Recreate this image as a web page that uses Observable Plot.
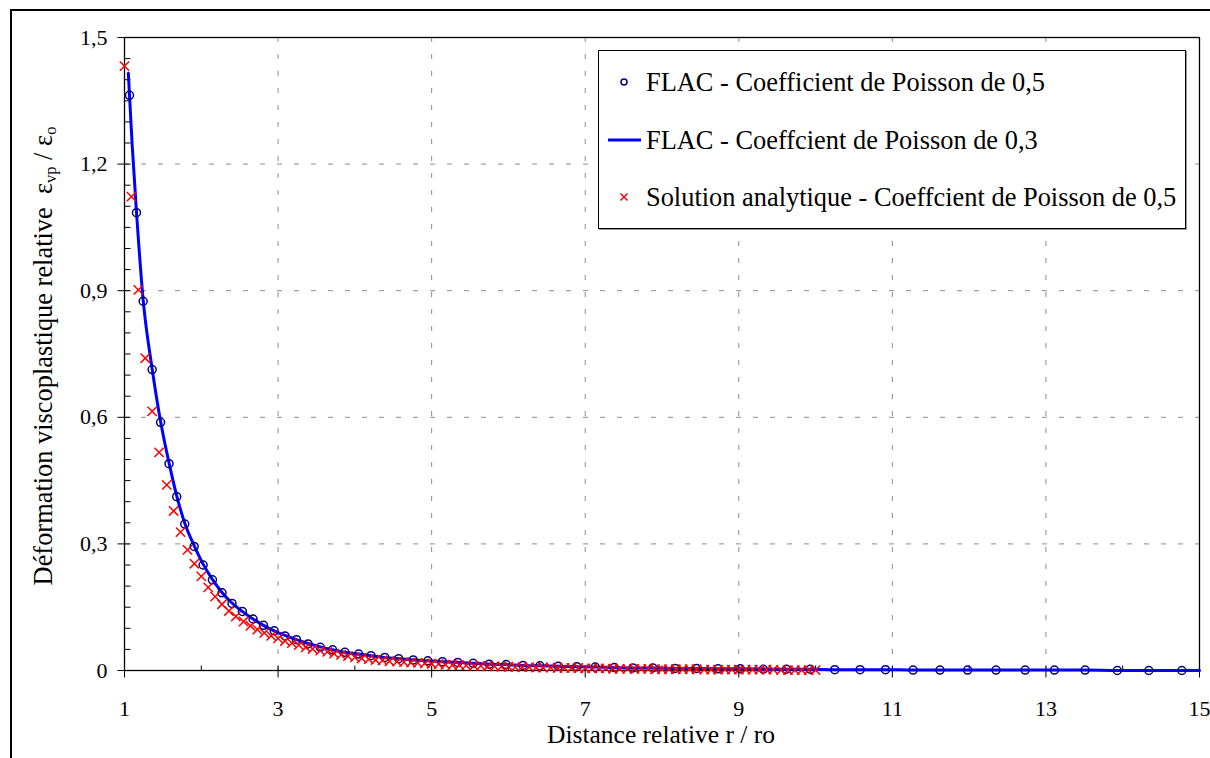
<!DOCTYPE html>
<html>
<head>
<meta charset="utf-8">
<script src="https://cdn.jsdelivr.net/npm/d3@7"></script>
<script src="https://cdn.jsdelivr.net/npm/@observablehq/plot@0.6"></script>
<style>
  html, body { margin: 0; padding: 0; background: #fff; }
  #wrap { position: relative; width: 1210px; height: 758px; overflow: hidden; background: #fff;
          font-family: "Liberation Serif", "Times New Roman", serif; color: #000; }
  #outer { position: absolute; left: 10px; top: 9px; width: 1400px; height: 1000px;
           border-left: 2px solid #000; border-top: 2px solid #000; }
  #chart { position: absolute; left: 0; top: 0; }
  #legend { position: absolute; left: 598px; top: 50px; width: 586px; height: 177px;
            border: 1px solid #000; background: #fff; box-shadow: 1px 1px 0 #9a9a9a; }
  .row { position: absolute; left: 0; height: 30px; width: 100%; font-size: 26.4px; line-height: 30px; white-space: nowrap; }
  .row svg { position: absolute; left: 0; top: 0; }
  .row span { position: absolute; left: 47px; top: 0; }
  #ytitle { position: absolute; left: 45px; top: 356px; transform: translate(-50%, -50%) rotate(-90deg);
            font-size: 26.4px; white-space: nowrap; line-height: 1; }
  #ytitle sub { font-size: 16.5px; vertical-align: -4px; }
  #xtitle { position: absolute; left: 661px; top: 722px; transform: translateX(-50%);
            font-size: 25.5px; white-space: nowrap; line-height: 1; }
</style>
</head>
<body>
<div id="wrap">
  <div id="outer"></div>
  <div id="chart"></div>
  <div id="legend"></div>
  <div id="ytitle">Déformation viscoplastique relative&nbsp;&nbsp;ε<sub>vp</sub> / ε<sub>o</sub></div>
  <div id="xtitle">Distance relative r / ro</div>
</div>
<script>
// ---- Series names ----
const seriesNames = [
  "FLAC - Coefficient de Poisson de 0,5",
  "FLAC - Coeffcient de Poisson de 0,3",
  "Solution analytique - Coeffcient de Poisson de 0,5"
];

// ---- FLAC, Poisson 0.5 (circles) ----
const flac05X = [1.065, 1.156, 1.243, 1.36, 1.47, 1.58, 1.68, 1.785, 1.907, 2.024, 2.145, 2.27, 2.40, 2.535, 2.674, 2.81, 2.95, 3.09, 3.24, 3.39, 3.55, 3.71, 3.87, 4.05, 4.21, 4.39, 4.57, 4.76, 4.95, 5.14, 5.34, 5.54, 5.75, 5.97, 6.19, 6.41, 6.65, 6.89, 7.13, 7.38, 7.62, 7.88, 8.17, 8.45, 8.73, 9.02, 9.32, 9.62, 9.93, 10.25, 10.58, 10.91, 11.27, 11.62, 11.98, 12.35, 12.73, 13.11, 13.51, 13.93, 14.34, 14.77];
const flac05Y = [1.363, 1.085, 0.875, 0.713, 0.588, 0.490, 0.412, 0.347, 0.294, 0.250, 0.215, 0.184, 0.159, 0.140, 0.122, 0.107, 0.094, 0.082, 0.073, 0.063, 0.055, 0.049, 0.043, 0.039, 0.035, 0.031, 0.028, 0.025, 0.023, 0.021, 0.019, 0.017, 0.015, 0.014, 0.012, 0.011, 0.010, 0.009, 0.008, 0.007, 0.006, 0.006, 0.005, 0.005, 0.004, 0.004, 0.003, 0.003, 0.003, 0.002, 0.002, 0.002, 0.001, 0.001, 0.001, 0.001, 0.001, 0.001, 0.001, 0.000, 0.000, 0.000];

// ---- FLAC, Poisson 0.3 (line) ----
const flac03X = [1.05, 1.10, 1.156, 1.243, 1.36, 1.47, 1.58, 1.68, 1.785, 1.907, 2.024, 2.145, 2.27, 2.40, 2.535, 2.674, 2.81, 2.95, 3.09, 3.24, 3.39, 3.55, 3.71, 3.87, 4.05, 4.21, 4.39, 4.57, 4.76, 4.95, 5.14, 5.34, 5.54, 5.75, 5.97, 6.19, 6.41, 6.65, 6.89, 7.13, 7.38, 7.62, 7.88, 8.17, 8.45, 8.73, 9.02, 9.32, 9.62, 9.93, 10.25, 10.58, 10.91, 11.27, 11.62, 11.98, 12.35, 12.73, 13.11, 13.51, 13.93, 14.34, 14.77, 15.0];
const flac03Y = [1.415, 1.245, 1.087, 0.878, 0.715, 0.590, 0.492, 0.414, 0.349, 0.296, 0.252, 0.216, 0.185, 0.160, 0.140, 0.122, 0.107, 0.094, 0.083, 0.073, 0.064, 0.056, 0.049, 0.043, 0.039, 0.035, 0.031, 0.028, 0.025, 0.023, 0.021, 0.019, 0.017, 0.015, 0.014, 0.012, 0.011, 0.010, 0.009, 0.008, 0.007, 0.006, 0.006, 0.005, 0.005, 0.004, 0.004, 0.003, 0.003, 0.003, 0.002, 0.002, 0.002, 0.001, 0.001, 0.001, 0.001, 0.001, 0.001, 0.001, 0.000, 0.000, 0.000, 0.000];

// ---- Analytical solution, Poisson 0.5 (crosses) ----
const anaX = [1.00, 1.09, 1.18, 1.27, 1.36, 1.45, 1.55, 1.64, 1.73, 1.82, 1.91, 2.00, 2.09, 2.18, 2.27, 2.36, 2.45, 2.55, 2.64, 2.73, 2.82, 2.91, 3.00, 3.09, 3.18, 3.27, 3.36, 3.45, 3.55, 3.64, 3.73, 3.82, 3.91, 4.00, 4.09, 4.18, 4.27, 4.36, 4.45, 4.55, 4.64, 4.73, 4.82, 4.91, 5.00, 5.09, 5.18, 5.27, 5.36, 5.45, 5.55, 5.64, 5.73, 5.82, 5.91, 6.00, 6.09, 6.18, 6.27, 6.36, 6.45, 6.55, 6.64, 6.73, 6.82, 6.91, 7.00, 7.09, 7.18, 7.27, 7.36, 7.45, 7.55, 7.64, 7.73, 7.82, 7.91, 8.00, 8.09, 8.18, 8.27, 8.36, 8.45, 8.55, 8.64, 8.73, 8.82, 8.91, 9.00, 9.09, 9.18, 9.27, 9.36, 9.45, 9.55, 9.64, 9.73, 9.82, 9.91, 10.00];
const anaY = [1.432, 1.123, 0.902, 0.740, 0.614, 0.517, 0.440, 0.378, 0.328, 0.286, 0.253, 0.223, 0.197, 0.175, 0.157, 0.141, 0.128, 0.116, 0.106, 0.097, 0.089, 0.082, 0.076, 0.070, 0.065, 0.060, 0.055, 0.051, 0.047, 0.044, 0.040, 0.037, 0.034, 0.031, 0.029, 0.027, 0.025, 0.024, 0.022, 0.021, 0.020, 0.019, 0.018, 0.017, 0.016, 0.015, 0.014, 0.013, 0.013, 0.012, 0.011, 0.011, 0.010, 0.010, 0.009, 0.009, 0.008, 0.008, 0.008, 0.007, 0.007, 0.007, 0.006, 0.006, 0.006, 0.006, 0.005, 0.005, 0.005, 0.005, 0.004, 0.004, 0.004, 0.004, 0.004, 0.004, 0.003, 0.003, 0.003, 0.003, 0.003, 0.003, 0.003, 0.002, 0.002, 0.002, 0.002, 0.002, 0.002, 0.002, 0.002, 0.002, 0.002, 0.002, 0.001, 0.001, 0.001, 0.001, 0.001, 0.001];

// ---- Axis ticks ----
const xLabelTicks = [1, 3, 5, 7, 9, 11, 13, 15];
const xMinorTicks = [2, 4, 6, 8, 10, 12, 14];
const xGridLines = [3, 5, 7, 9, 11, 13];
const yLabelTicks = [0, 0.3, 0.6, 0.9, 1.2, 1.5];
const yMinorTicks = [0.05, 0.1, 0.15, 0.2, 0.25, 0.35, 0.4, 0.45, 0.5, 0.55, 0.65, 0.7, 0.75, 0.8, 0.85, 0.95, 1.0, 1.05, 1.1, 1.15, 1.25, 1.3, 1.35, 1.4, 1.45];
const yGridLines = [0.3, 0.6, 0.9, 1.2];

// ---- Colours ----
const circleColor = "#000080";
const lineColor = "#0000FF";
const crossColor = "#FF0000";

const circles = flac05X.map((x, i) => ({x, y: flac05Y[i]}));
const line = flac03X.map((x, i) => ({x, y: flac03Y[i]}));
const crosses = anaX.map((x, i) => ({x, y: anaY[i]}));

const seg = (x0, y0, x1, y1) => ({draw(ctx) { ctx.moveTo(x0, y0); ctx.lineTo(x1, y1); }});

const chart = Plot.plot({
  width: 1210,
  height: 758,
  marginTop: 37,
  marginLeft: 124,
  marginRight: 11,
  marginBottom: 88,
  style: {fontFamily: "'Liberation Serif', 'Times New Roman', serif", fontSize: "22px", background: "transparent", color: "#000"},
  x: {domain: [1, 15]},
  y: {domain: [0, 1.5]},
  marks: [
    Plot.ruleY(yGridLines, {y: d => d, stroke: "#8c8c8c", strokeDasharray: "5,12", strokeWidth: 1}),
    Plot.ruleX(xGridLines, {x: d => d, stroke: "#8c8c8c", strokeDasharray: "5,12", strokeWidth: 1}),
    Plot.frame({stroke: "#000", strokeWidth: 1.3}),
    // x ticks
    Plot.dot(xMinorTicks, {x: d => d, y: () => 0, r: 1, symbol: seg(0, 0, 0, -5), stroke: "#000", fill: "none", strokeWidth: 1}),
    Plot.dot(xLabelTicks, {x: d => d, y: () => 0, r: 1, symbol: seg(0, -5, 0, 7), stroke: "#000", fill: "none", strokeWidth: 1}),
    // y ticks
    Plot.dot(yMinorTicks, {x: () => 1, y: d => d, r: 1, symbol: seg(0, 0, 6, 0), stroke: "#000", fill: "none", strokeWidth: 1}),
    Plot.dot(yLabelTicks, {x: () => 1, y: d => d, r: 1, symbol: seg(-7, 0, 6, 0), stroke: "#000", fill: "none", strokeWidth: 1}),
    Plot.axisX({ticks: xLabelTicks, tickSize: 0, tickPadding: 30, tickFormat: d => String(d), label: null}),
    Plot.axisY({ticks: yLabelTicks, tickSize: 0, tickPadding: 17, tickFormat: d => String(d).replace(".", ","), label: null}),
    // series
    Plot.line(line, {x: "x", y: "y", stroke: lineColor, strokeWidth: 3, curve: "monotone-x"}),
    Plot.dot(circles, {x: "x", y: "y", r: 4, stroke: circleColor, strokeWidth: 1.5, fill: "none"}),
    Plot.dot(crosses, {x: "x", y: "y", r: 4.3, symbol: "times", stroke: crossColor, strokeWidth: 1.5})
  ]
});
document.getElementById("chart").appendChild(chart);

// ---- Legend ----
const legend = document.getElementById("legend");
const icons = [
  `<svg width="46" height="30"><circle cx="25" cy="15" r="3" fill="none" stroke="${circleColor}" stroke-width="1.5"/></svg>`,
  `<svg width="46" height="30"><line x1="9" y1="15" x2="42" y2="15" stroke="${lineColor}" stroke-width="3"/></svg>`,
  `<svg width="46" height="30"><path d="M21.5,11.5L28.5,18.5M28.5,11.5L21.5,18.5" stroke="${crossColor}" stroke-width="1.5"/></svg>`
];
const rowCenters = [31, 89, 146];
seriesNames.forEach((name, i) => {
  const row = document.createElement("div");
  row.className = "row";
  row.style.top = (rowCenters[i] - 15) + "px";
  row.innerHTML = icons[i] + `<span>${name}</span>`;
  legend.appendChild(row);
});
</script>
</body>
</html>
